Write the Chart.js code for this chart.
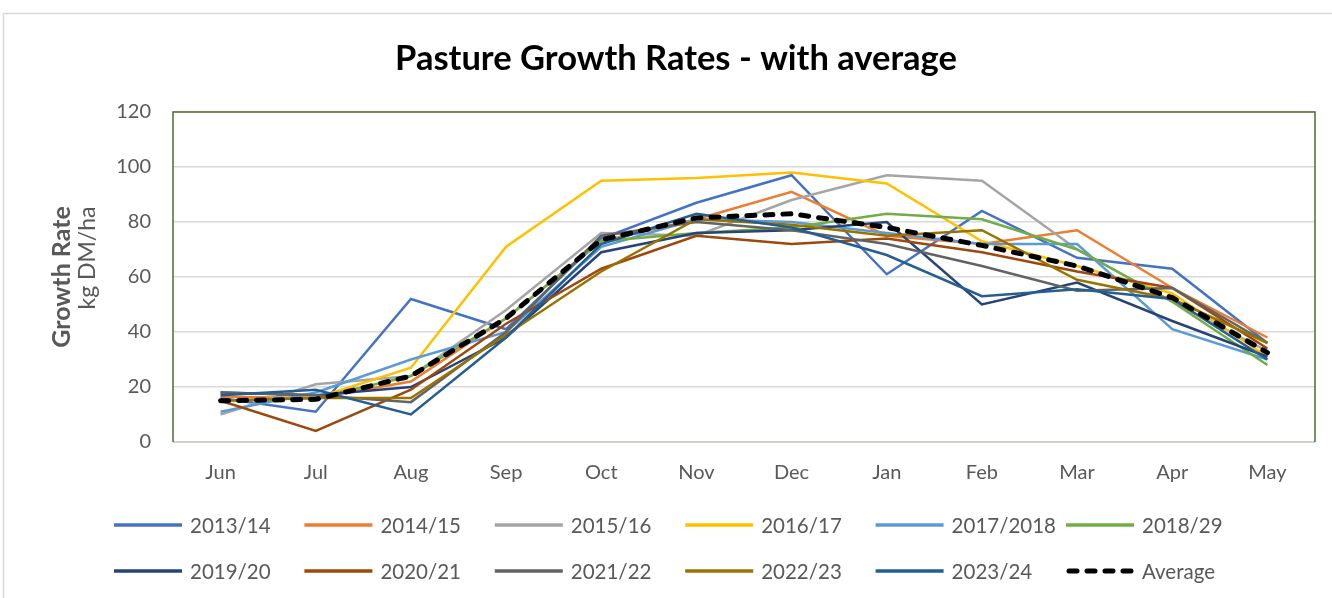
<!DOCTYPE html>
<html>
<head>
<meta charset="utf-8">
<style>
  html, body { margin: 0; padding: 0; background: #ffffff; }
  #wrap { width: 1332px; height: 598px; position: relative; }
  canvas { display: block; }
</style>
<script src="https://cdn.jsdelivr.net/npm/chart.js@4.4.1/dist/chart.umd.min.js"></script>
</head>
<body>
<div id="wrap"><canvas id="c" width="1332" height="598"></canvas></div>
<script>
// ---------- DATA ----------
const months = ['Jun', 'Jul', 'Aug', 'Sep', 'Oct', 'Nov', 'Dec', 'Jan', 'Feb', 'Mar', 'Apr', 'May'];
const yTicks = [0, 20, 40, 60, 80, 100, 120];
const seriesNames = ['2013/14', '2014/15', '2015/16', '2016/17', '2017/2018', '2018/29',
                     '2019/20', '2020/21', '2021/22', '2022/23', '2023/24'];
const s2013_14  = [16, 11, 52, 41, 74, 87, 97, 61, 84, 67, 63, 36];
const s2014_15  = [16.5, 16, 22, 45, 73, 81, 91, 75, 72, 77, 56, 38];
const s2015_16  = [10, 21, 24, 48, 76, 75, 88, 97, 95, 70, 51, 33];
const s2016_17  = [15, 16, 27, 71, 95, 96, 98, 94, 73, 64, 54, 31];
const s2017_18  = [11, 18, 30, 40, 71, 81, 80, 76, 72, 72, 41, 30];
const s2018_29  = [15, 16, 24, 45, 73, 76, 78, 83, 81, 70, 51, 28];
const s2019_20  = [18, 17, 20, 38, 69, 76, 77, 80, 50, 58, 44, 31];
const s2020_21  = [15, 4, 19, 43, 63, 75, 72, 74, 69, 62, 56, 34];
const s2021_22  = [18, 17, 14.5, 40, 75, 80, 77, 72, 64, 55, 56, 36];
const s2022_23  = [15, 16, 16, 39, 62, 81, 79, 75, 77, 59, 52, 36];
const s2023_24  = [17, 19, 10, 38, 72, 83, 78, 68, 53, 55.5, 52, 30];
const averageValues = [15, 15.5, 24, 45, 73.5, 81.5, 83, 78, 71.5, 64, 52.5, 32.5];
const seriesValues = [s2013_14, s2014_15, s2015_16, s2016_17, s2017_18, s2018_29,
                      s2019_20, s2020_21, s2021_22, s2022_23, s2023_24];

// ---------- STYLE ----------
const FONT = 'Lato, "Open Sans", "Noto Sans", sans-serif';
const TEXT = '#595959';
const seriesColors = ['#4472C4', '#ED7D31', '#A5A5A5', '#FFC000', '#5B9BD5', '#70AD47',
                      '#264478', '#9E480E', '#636363', '#997300', '#255E91'];

const datasets = seriesNames.map((name, i) => ({
  label: name,
  data: seriesValues[i],
  borderColor: seriesColors[i],
  backgroundColor: seriesColors[i],
  borderWidth: 2.5,
  pointRadius: 0,
  pointHoverRadius: 0,
  tension: 0,
  fill: false,
  order: 20 - i
}));
datasets.push({
  label: 'Average',
  data: averageValues,
  borderColor: '#000000',
  backgroundColor: '#000000',
  borderWidth: 5,
  borderDash: [8, 10],
  borderCapStyle: 'round',
  pointRadius: 0,
  pointHoverRadius: 0,
  tension: 0,
  fill: false,
  order: 0
});

const decor = {
  id: 'decor',
  beforeDraw(chart) {
    const ctx = chart.ctx;
    ctx.save();
    ctx.fillStyle = '#ffffff';
    ctx.fillRect(0, 0, chart.width, chart.height);
    // outer chart frame
    ctx.strokeStyle = '#D9D9D9';
    ctx.lineWidth = 1.5;
    ctx.beginPath();
    ctx.moveTo(3.5, chart.height);
    ctx.lineTo(3.5, 13.5);
    ctx.lineTo(chart.width, 13.5);
    ctx.stroke();
    ctx.restore();
  },
  beforeDatasetsDraw(chart) {
    const ctx = chart.ctx, a = chart.chartArea;
    ctx.save();
    ctx.lineWidth = 1.5;
    ctx.strokeStyle = '#C6CCC0';
    ctx.beginPath();
    ctx.moveTo(a.left, a.bottom);
    ctx.lineTo(a.right, a.bottom);
    ctx.stroke();
    ctx.strokeStyle = '#4F6B2F';
    ctx.beginPath();
    ctx.moveTo(a.left, a.bottom);
    ctx.lineTo(a.left, a.top);
    ctx.lineTo(a.right, a.top);
    ctx.lineTo(a.right, a.bottom);
    ctx.stroke();
    ctx.restore();
  },
  afterDraw(chart) {
    const ctx = chart.ctx;
    ctx.save();
    // title
    ctx.fillStyle = '#000000';
    ctx.font = 'bold 34.5px ' + FONT;
    ctx.textAlign = 'center';
    ctx.textBaseline = 'alphabetic';
    ctx.fillText('Pasture Growth Rates - with average', 676, 70);
    // y axis title
    ctx.save();
    ctx.translate(62, 277);
    ctx.rotate(-Math.PI / 2);
    ctx.fillStyle = TEXT;
    ctx.textAlign = 'center';
    ctx.textBaseline = 'middle';
    ctx.font = 'bold 25px ' + FONT;
    ctx.fillText('Growth Rate', 0, 0);
    ctx.restore();
    ctx.save();
    ctx.translate(88, 258);
    ctx.rotate(-Math.PI / 2);
    ctx.fillStyle = TEXT;
    ctx.textAlign = 'center';
    ctx.textBaseline = 'middle';
    ctx.font = '23px ' + FONT;
    ctx.fillText('kg DM/ha', 0, 0);
    ctx.restore();
    // legend (grid of 6 columns, 2 rows)
    const dsList = chart.data.datasets;
    ctx.font = '20.5px ' + FONT;
    ctx.textBaseline = 'middle';
    ctx.textAlign = 'left';
    dsList.forEach((ds, i) => {
      const col = i % 6, row = Math.floor(i / 6);
      const x0 = 114 + col * 190.4;
      const y = 525 + row * 46;
      ctx.save();
      ctx.strokeStyle = ds.borderColor;
      ctx.lineWidth = ds.label === 'Average' ? 5 : 3.5;
      ctx.lineCap = ds.label === 'Average' ? 'round' : 'butt';
      ctx.setLineDash(ds.borderDash || []);
      ctx.beginPath();
      ctx.moveTo(x0 + (ds.label === 'Average' ? 3 : 0), y);
      ctx.lineTo(x0 + 68, y);
      ctx.stroke();
      ctx.restore();
      ctx.fillStyle = TEXT;
      ctx.fillText(ds.label, x0 + 76, y + 1);
    });
    ctx.restore();
  }
};

new Chart(document.getElementById('c'), {
  type: 'line',
  data: { labels: months, datasets },
  options: {
    responsive: false,
    animation: false,
    events: [],
    layout: { padding: { top: 112, right: 17, bottom: 0, left: 0 } },
    plugins: { legend: { display: false }, title: { display: false }, tooltip: { enabled: false } },
    scales: {
      x: {
        offset: true,
        grid: { display: false, drawTicks: false },
        border: { display: false },
        ticks: { font: { family: FONT, size: 20 }, color: TEXT, padding: 19, maxRotation: 0 },
        afterFit(s) { s.height = 598 - 442; }
      },
      y: {
        min: 0,
        max: 120,
        afterBuildTicks(s) { s.ticks = yTicks.map(v => ({ value: v })); },
        grid: { color: '#D9D9D9', lineWidth: 1.5, drawTicks: false },
        border: { display: false },
        ticks: { font: { family: FONT, size: 20 }, color: TEXT, padding: 22 },
        afterFit(s) { s.width = 173; }
      }
    }
  },
  plugins: [decor]
});
</script>
</body>
</html>
